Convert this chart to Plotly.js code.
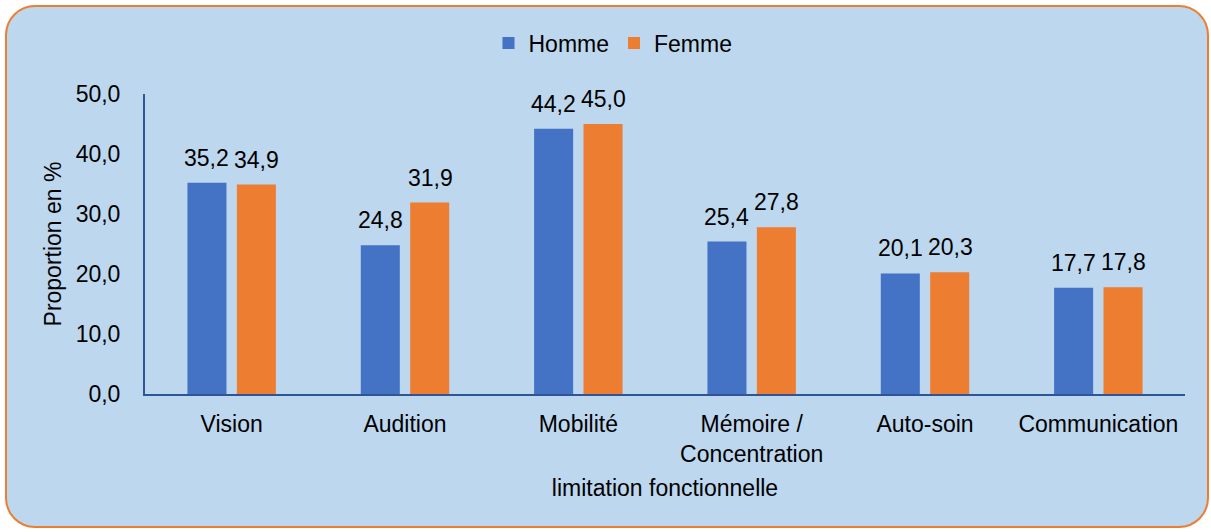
<!DOCTYPE html>
<html>
<head>
<meta charset="utf-8">
<script src="https://cdn.plot.ly/plotly-3.0.1.min.js"></script>
<style>
  html, body { margin: 0; padding: 0; background: #ffffff; }
  #frame { position: absolute; left: 5px; top: 5px; width: 1200px; height: 519px;
           background: #BDD7EE; border: 2px solid #ED7D31; border-radius: 30px; }
  #chart { position: absolute; left: 0; top: 0; width: 1211px; height: 532px; }
</style>
</head>
<body>
<div id="frame"></div>
<div id="chart"></div>
<script>
const categories = ["Vision", "Audition", "Mobilité", "Mémoire /<br>Concentration", "Auto-soin", "Communication"];
const homme = [35.2, 24.8, 44.2, 25.4, 20.1, 17.7];
const femme = [34.9, 31.9, 45.0, 27.8, 20.3, 17.8];
const yTicks = [0, 10, 20, 30, 40, 50];

const fmt = v => v.toFixed(1).replace('.', ',');
const font = { family: "Liberation Sans, Arial, sans-serif", color: "#000000" };
const FS = 23;

const traces = [
  { type: "bar", name: "Homme", x: categories, y: homme, marker: { color: "#4472C4" }, hoverinfo: "skip" },
  { type: "bar", name: "Femme", x: categories, y: femme, marker: { color: "#ED7D31" }, hoverinfo: "skip" }
];

const annotations = [];
categories.forEach((c, i) => {
  annotations.push({ x: c, y: homme[i], xref: "x", yref: "y", text: fmt(homme[i]), showarrow: false,
    xshift: -25, yshift: 10, yanchor: "bottom", font: Object.assign({ size: FS }, font) });
  annotations.push({ x: c, y: femme[i], xref: "x", yref: "y", text: fmt(femme[i]), showarrow: false,
    xshift: 25, yshift: 10, yanchor: "bottom", font: Object.assign({ size: FS }, font) });
});

const layout = {
  width: 1211, height: 532,
  paper_bgcolor: "rgba(0,0,0,0)", plot_bgcolor: "rgba(0,0,0,0)",
  margin: { l: 145, r: 26, t: 94, b: 138 },
  font: Object.assign({ size: FS }, font),
  barmode: "group", bargap: 0.43, bargroupgap: 0.21,
  showlegend: true,
  legend: { orientation: "h", x: 0.45, xanchor: "center", y: 1.17, yanchor: "middle",
            font: Object.assign({ size: FS }, font), bgcolor: "rgba(0,0,0,0)" },
  xaxis: {
    type: "category", showline: true, linecolor: "#2F5597", linewidth: 2,
    ticks: "outside", ticklen: 8, tickcolor: "rgba(0,0,0,0)",
    tickfont: Object.assign({ size: FS }, font), showgrid: false, zeroline: false,
    title: { text: "limitation fonctionnelle", font: Object.assign({ size: FS }, font), standoff: 14 }
  },
  yaxis: {
    range: [0, 50], tickvals: yTicks, ticktext: yTicks.map(fmt),
    showline: true, linecolor: "#2F5597", linewidth: 2,
    ticks: "outside", ticklen: 18, tickcolor: "rgba(0,0,0,0)",
    tickfont: Object.assign({ size: FS }, font), showgrid: false, zeroline: false,
    title: { text: "Proportion en %", font: Object.assign({ size: FS }, font), standoff: 8 }
  },
  annotations: annotations
};

Plotly.newPlot("chart", traces, layout, { displayModeBar: false, staticPlot: true });
</script>
</body>
</html>
